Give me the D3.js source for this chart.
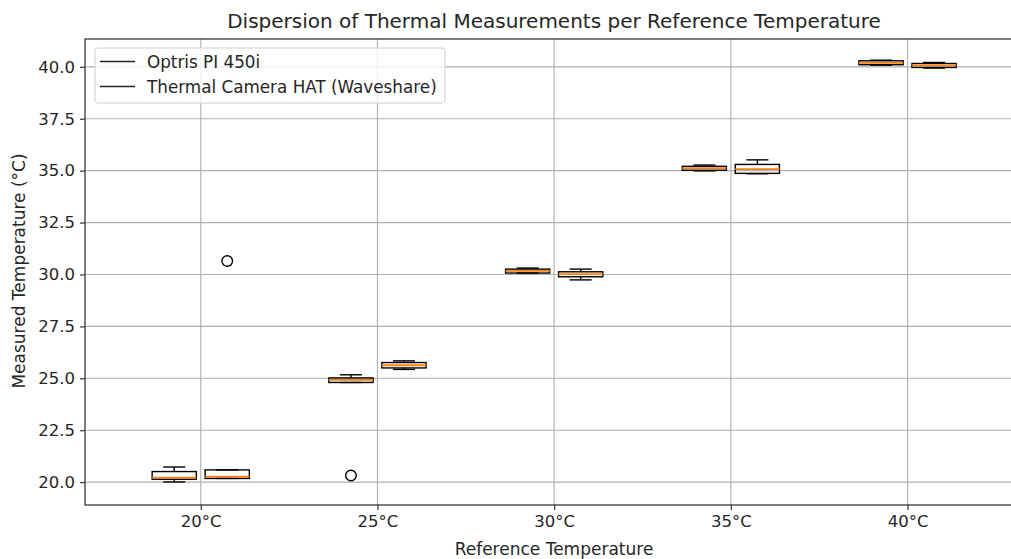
<!DOCTYPE html>
<html>
<head>
<meta charset="utf-8">
<script src="https://cdn.jsdelivr.net/npm/d3@7"></script>
<style>
  html, body { margin: 0; padding: 0; background: #fff; }
  svg { display: block; font-family: "DejaVu Sans", sans-serif; }
</style>
</head>
<body>
<svg id="chart" width="1011" height="559"></svg>
<script>
// Reference temperatures (category labels)
const categories = ["20°C", "25°C", "30°C", "35°C", "40°C"];
const seriesNames = ["Optris PI 450i", "Thermal Camera HAT (Waveshare)"];

// Box statistics per category: [lower whisker, Q1, median, Q3, upper whisker]
const optrisStats = [
  [20.01, 20.14, 20.22, 20.51, 20.73],
  [24.80, 24.80, 24.93, 25.02, 25.17],
  [30.07, 30.07, 30.17, 30.26, 30.31],
  [34.99, 35.02, 35.12, 35.21, 35.27],
  [40.08, 40.10, 40.19, 40.29, 40.32]
];
const waveshareStats = [
  [20.18, 20.18, 20.27, 20.59, 20.59],
  [25.43, 25.50, 25.63, 25.76, 25.84],
  [29.74, 29.89, 30.02, 30.13, 30.26],
  [34.85, 34.87, 35.07, 35.30, 35.52],
  [39.94, 39.97, 40.07, 40.16, 40.21]
];
// Fliers per category
const optrisOutliers = [[], [20.32], [], [], []];
const waveshareOutliers = [[30.65], [], [], [], []];

const yTicks = [20.0, 22.5, 25.0, 27.5, 30.0, 32.5, 35.0, 37.5, 40.0];

const svg = d3.select("#chart");
const plotLeft = 85, plotTop = 39, plotBottom = 505, plotRight = 1023.3;

const x = d3.scaleLinear().domain([-0.655, 4.655]).range([plotLeft, plotRight]);
const y = d3.scaleLinear().domain([18.9, 41.34]).range([plotBottom, plotTop]);

const offsets = [-0.15, 0.15];
const boxW = 0.25;

// grid
const grid = svg.append("g");
grid.selectAll("line.gx").data(categories).enter().append("line")
  .attr("x1", (d, i) => x(i)).attr("x2", (d, i) => x(i))
  .attr("y1", plotTop).attr("y2", plotBottom)
  .attr("stroke", "#b0b0b0").attr("stroke-width", 1.1);
grid.selectAll("line.gy").data(yTicks).enter().append("line")
  .attr("x1", plotLeft).attr("x2", plotRight)
  .attr("y1", d => y(d)).attr("y2", d => y(d))
  .attr("stroke", "#b0b0b0").attr("stroke-width", 1.1);

// boxes
function drawSeries(stats, outliers, off) {
  const g = svg.append("g");
  stats.forEach((s, i) => {
    const cx = x(i + off);
    const x0 = x(i + off - boxW / 2), x1 = x(i + off + boxW / 2);
    const c0 = x(i + off - boxW / 4), c1 = x(i + off + boxW / 4);
    const [lo, q1, med, q3, hi] = s;
    const line = (a, b, c, d, col, w) => g.append("line")
      .attr("x1", a).attr("y1", b).attr("x2", c).attr("y2", d)
      .attr("stroke", col).attr("stroke-width", w);
    line(cx, y(q1), cx, y(lo), "#000", 1.4);
    line(cx, y(q3), cx, y(hi), "#000", 1.4);
    line(c0, y(lo), c1, y(lo), "#000", 1.4);
    line(c0, y(hi), c1, y(hi), "#000", 1.4);
    g.append("rect")
      .attr("x", x0).attr("y", y(q3))
      .attr("width", x1 - x0).attr("height", Math.max(0, y(q1) - y(q3)))
      .attr("fill", "none").attr("stroke", "#000").attr("stroke-width", 1.4);
    line(x0, y(med), x1, y(med), "#ff7f0e", 1.8);
    outliers[i].forEach(v => {
      g.append("circle").attr("cx", cx).attr("cy", y(v)).attr("r", 5.3)
        .attr("fill", "none").attr("stroke", "#000").attr("stroke-width", 1.4);
    });
  });
}
drawSeries(optrisStats, optrisOutliers, offsets[0]);
drawSeries(waveshareStats, waveshareOutliers, offsets[1]);

// axes
const xAxis = d3.axisBottom(x).tickValues(d3.range(categories.length))
  .tickFormat(i => categories[i]).tickSize(5).tickPadding(5);
const yAxis = d3.axisLeft(y).tickValues(yTicks)
  .tickFormat(d3.format(".1f")).tickSize(5).tickPadding(5);

const gx = svg.append("g").attr("transform", `translate(0,${plotBottom})`).call(xAxis);
const gy = svg.append("g").attr("transform", `translate(${plotLeft},0)`).call(yAxis);
[gx, gy].forEach(g => {
  g.select(".domain").remove();
  g.selectAll("text").attr("font-family", "DejaVu Sans").attr("font-size", 16.5).attr("fill", "#262626");
  g.selectAll("line").attr("stroke", "#262626").attr("stroke-width", 1.1);
});

// frame
svg.append("rect").attr("x", plotLeft).attr("y", plotTop)
  .attr("width", plotRight - plotLeft).attr("height", plotBottom - plotTop)
  .attr("fill", "none").attr("stroke", "#262626").attr("stroke-width", 1.2);

// title and labels
svg.append("text").attr("x", 554).attr("y", 28).attr("text-anchor", "middle")
  .attr("font-size", 20).attr("fill", "#262626")
  .text("Dispersion of Thermal Measurements per Reference Temperature");
svg.append("text").attr("x", 554).attr("y", 555).attr("text-anchor", "middle")
  .attr("font-size", 17).attr("fill", "#262626").text("Reference Temperature");
svg.append("text").attr("transform", "translate(25,271) rotate(-90)")
  .attr("text-anchor", "middle").attr("font-size", 17).attr("fill", "#262626")
  .text("Measured Temperature (°C)");

// legend
const lg = svg.append("g");
lg.append("rect").attr("x", 95).attr("y", 48).attr("width", 350).attr("height", 55)
  .attr("rx", 3).attr("fill", "#fff").attr("fill-opacity", 0.8)
  .attr("stroke", "#d0d0d0").attr("stroke-width", 1);
seriesNames.forEach((name, i) => {
  const yy = 61.5 + i * 25;
  lg.append("line").attr("x1", 100).attr("x2", 135).attr("y1", yy).attr("y2", yy)
    .attr("stroke", "#262626").attr("stroke-width", 1.4);
  lg.append("text").attr("x", 147).attr("y", yy + 6).attr("font-size", 16.8)
    .attr("fill", "#262626").text(name);
});
</script>
</body>
</html>
